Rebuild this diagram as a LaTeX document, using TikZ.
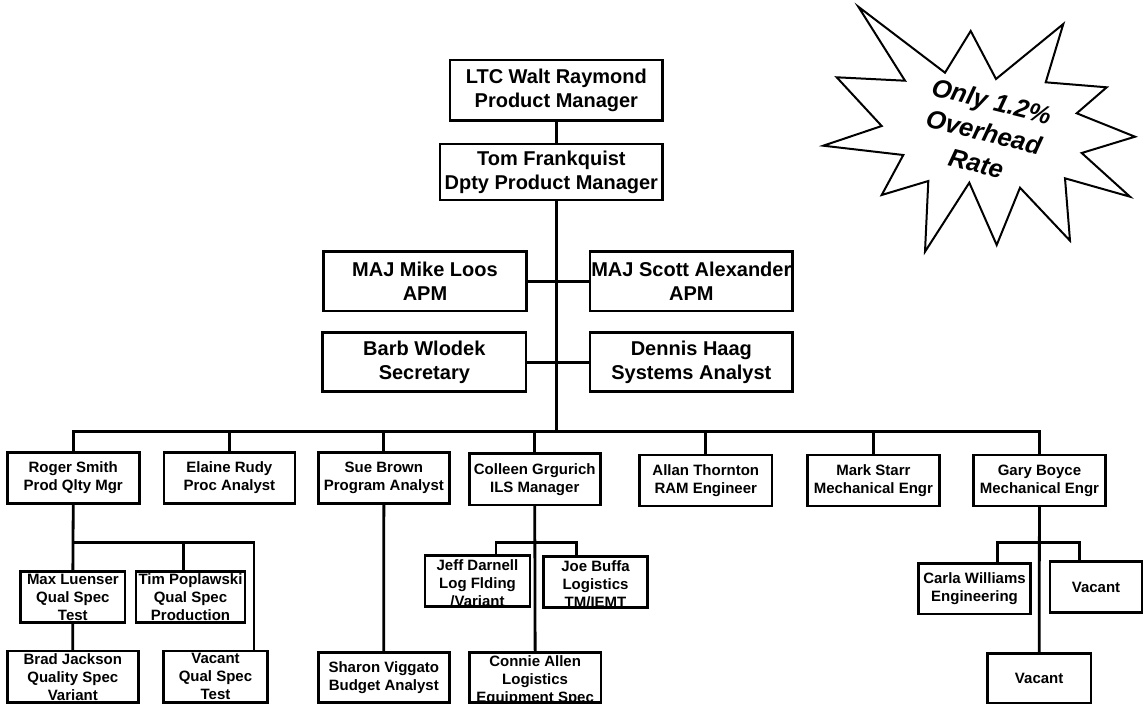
\documentclass[tikz,border=0pt]{standalone}
\usepackage{fontspec}
\setmainfont{Liberation Sans}
\usetikzlibrary{calc}
\pgfdeclarelayer{bg}
\pgfdeclarelayer{wires}
\pgfsetlayers{bg,wires,main}

% one box of the chart: name, left, top, right, bottom, text style, text
\newcommand\orgbox[7]{%
  \node[orgrect, minimum width={#4-#2}, minimum height={#5-#3}]
    (#1) at ({(#2+#4)/2},{(#3+#5)/2}) {};
  \node[#6] (#1-label) at (#1.center) {#7};}

\begin{document}
\begin{tikzpicture}[x=1pt,y=-1pt,
  orgrect/.style={draw, line width=2.8pt, fill=white, inner sep=0pt, outer sep=0pt},
  bigtext/.style={font=\bfseries\fontsize{20}{24}\selectfont, align=center, inner sep=0pt},
  smalltext/.style={font=\bfseries\fontsize{15}{18}\selectfont, align=center, inner sep=0pt},
  bursttext/.style={font=\bfseries\itshape\fontsize{25.5}{32}\selectfont, align=center, inner sep=0pt},
  link/.style={line width=2.8pt, line cap=rect},
]
\begin{pgfonlayer}{bg}
  \fill[white] (0,0) rectangle (1146,704);
\end{pgfonlayer}
\useasboundingbox (0,0) rectangle (1146,704);

% headquarters
\orgbox{ltc}{450}{60}{662.7}{120.7}{bigtext}{LTC Walt Raymond\\Product Manager}
\orgbox{tom}{440}{144}{662.7}{200}{bigtext}{Tom Frankquist\\Dpty Product Manager}
\orgbox{mike}{323.3}{251.7}{526.7}{311}{bigtext}{MAJ Mike Loos\\APM}
\orgbox{scott}{590}{251.7}{792.7}{311}{bigtext}{MAJ Scott Alexander\\APM}
\orgbox{barb}{322.7}{332.7}{526}{391.7}{bigtext}{Barb Wlodek\\Secretary}
\orgbox{dennis}{590}{332.7}{792.7}{391.7}{bigtext}{Dennis Haag\\Systems Analyst}

% staff row
\orgbox{roger}{7.4}{452.3}{139.1}{503.3}{smalltext}{Roger Smith\\Prod Qlty Mgr}
\orgbox{elaine}{163.9}{452.3}{294.9}{503.3}{smalltext}{Elaine Rudy\\Proc Analyst}
\orgbox{sue}{318.2}{452.3}{449.5}{503.3}{smalltext}{Sue Brown\\Program Analyst}
\orgbox{colleen}{469.1}{453.3}{600.4}{505}{smalltext}{Colleen Grgurich\\ILS Manager}
\orgbox{allan}{639.6}{455}{771.9}{506}{smalltext}{Allan Thornton\\RAM Engineer}
\orgbox{mark}{807.4}{455}{939.3}{506}{smalltext}{Mark Starr\\Mechanical Engr}
\orgbox{gary}{973.3}{455}{1105.6}{506}{smalltext}{Gary Boyce\\Mechanical Engr}

% quality team
\orgbox{max}{20.7}{571.7}{125}{622.7}{smalltext}{Max Luenser\\Qual Spec\\Test}
\orgbox{tim}{136}{571.7}{245}{622.7}{smalltext}{Tim Poplawski\\Qual Spec\\Production}
\orgbox{brad}{7.3}{651}{138.3}{702.7}{smalltext}{Brad Jackson\\Quality Spec\\Variant}
\orgbox{vacq}{163.3}{651}{267.7}{702.7}{smalltext}{Vacant\\Qual Spec\\Test}

% program and logistics teams
\orgbox{sharon}{318.3}{652.7}{449.3}{702.7}{smalltext}{Sharon Viggato\\Budget Analyst}
\orgbox{jeff}{425}{555.7}{530}{606.7}{smalltext, yshift=-2pt}{Jeff Darnell\\Log Flding\\/Variant}
\orgbox{joe}{543.3}{556.7}{647.7}{607.7}{smalltext, yshift=-2pt}{Joe Buffa\\Logistics\\TM/IEMT}
\orgbox{connie}{469.3}{652.5}{601}{702.7}{smalltext, yshift=-3pt}{Connie Allen\\Logistics\\Equipment Spec}

% engineering team
\orgbox{carla}{918.3}{563.3}{1030.7}{614}{smalltext}{Carla Williams\\Engineering}
\orgbox{vacr}{1050}{561.7}{1142}{612.3}{smalltext}{Vacant}
\orgbox{vacb}{987.3}{653.3}{1091}{703}{smalltext}{Vacant}

% junction points of the tree
\coordinate (bus) at (556.5,431.7);
\coordinate (rsub) at (254,542.7);
\coordinate (tsub) at (183.3,542.7);
\coordinate (csubL) at (496,542.3);
\coordinate (csubR) at (576.7,542.3);
\coordinate (gsubL) at (997.3,542.7);
\coordinate (gsubR) at (1079.3,542.7);

\begin{pgfonlayer}{wires}
  \draw[link] (ltc.south) -- (ltc.south |- bus);
  \draw[link] (mike.east) -- (scott.west);
  \draw[link] (barb.east) -- (dennis.west);
  \draw[link] (roger.north) -- (roger.north |- bus) -- (gary.north |- bus) -- (gary.north);
  \foreach \n in {elaine,sue,colleen,allan,mark}
    \draw[link] (\n.north) -- (\n.north |- bus);
  % quality team
  \draw[link] (roger.south) -- (max.north);
  \draw[link] (max.south) -- (brad.north);
  \draw[link] (roger.south |- rsub) -- (rsub) -- (rsub |- vacq.north);
  \draw[link] (tsub) -- (tsub |- tim.north);
  % program analyst
  \draw[link] (sue.south) -- (sharon.north);
  % logistics
  \draw[link] (colleen.south) -- (connie.north);
  \draw[link] (csubL |- jeff.north) -- (csubL) -- (csubR) -- (csubR |- joe.north);
  % engineering
  \draw[link] (gary.south) -- (vacb.north);
  \draw[link] (gsubL |- carla.north) -- (gsubL) -- (gsubR) -- (gsubR |- vacr.north);
\end{pgfonlayer}

% callout burst
\draw[line width=2pt, fill=white, line join=miter]
  (858.3,6.7) -- (945,72.7) -- (970.7,31) -- (996,79) -- (1063.3,24)
  -- (1045.7,82.3) -- (1106.7,87.3) -- (1076.7,113.3) -- (1135,136.7)
  -- (1081.7,153) -- (1130,196.7) -- (1065,178.3) -- (1070,240.7)
  -- (1020,187.7) -- (996.7,245) -- (969.3,182.7) -- (925,251.7)
  -- (928.3,181) -- (881.7,195) -- (903.3,155) -- (823.3,145.7)
  -- (881.7,126) -- (836.7,77.3) -- (905,80.7) -- cycle;
\node[bursttext, rotate=-14] (burst) at (984,132) {Only 1.2\%\\Overhead\\Rate};
\end{tikzpicture}
\end{document}
